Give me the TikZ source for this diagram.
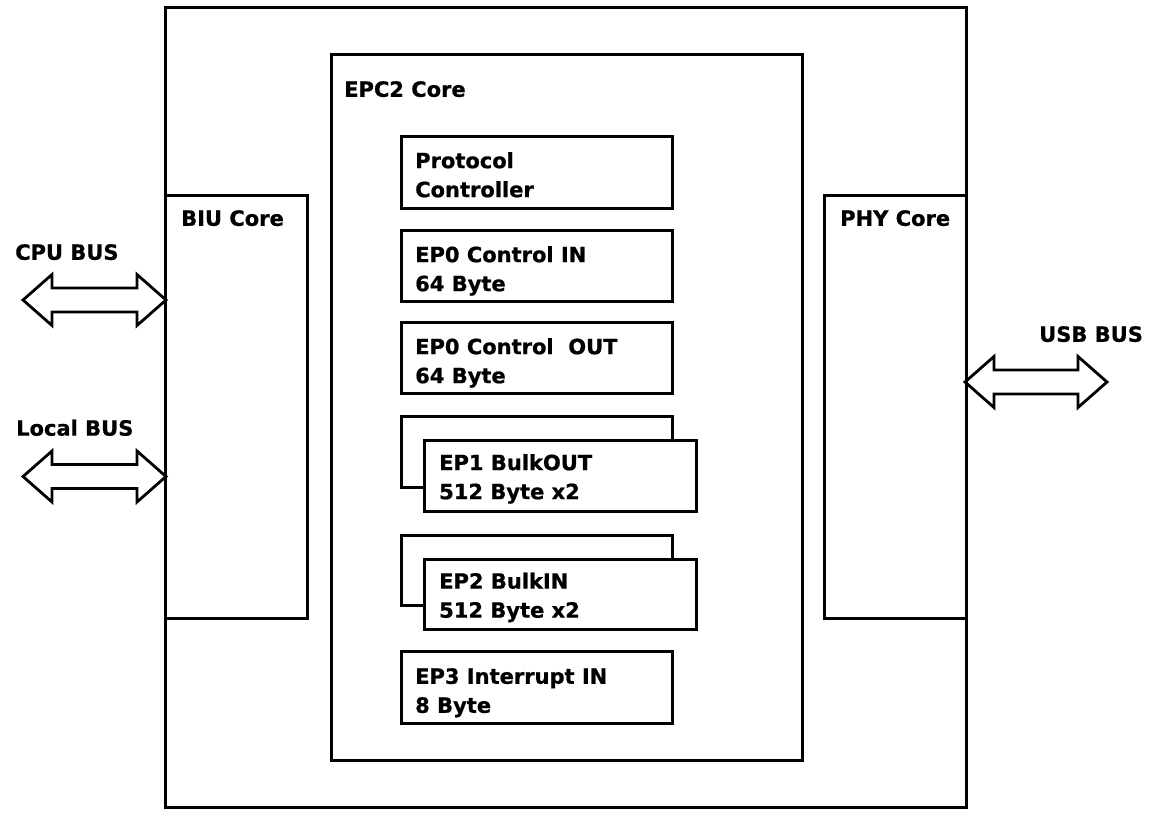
\documentclass[tikz,border=0pt]{standalone}
\usepackage{fontspec}
\setmainfont{DejaVu Sans}[BoldFeatures={FakeBold=0.8}]
\usetikzlibrary{calc}
\tikzset{%
  blk/.style={draw,shape=rectangle,line width=2.5pt,fill=white,inner sep=0,anchor=north west},
  txt/.style={inner sep=0,anchor=north west,align=left,font=\fontsize{21}{29}\selectfont\bfseries},
  bus/.style={draw,line width=2.8pt,line join=miter}
}
% double headed bus arrow: left tip, length
\newcommand{\busarrow}[2]{%
  \draw[bus] (#1) -- ++(29,-25.5) -- ++(0,13.5) -- ++(#2-58,0) -- ++(0,-13.5) -- ++(29,25.5)
    -- ++(-29,25.5) -- ++(0,-13.5) -- ++(-#2+58,0) -- ++(0,13.5) -- cycle;}

\begin{document}
\begin{tikzpicture}[x=1pt,y=-1pt]
    \useasboundingbox (0,0) rectangle (1152,814);
    \path
      (164,6) node (chip)[blk,minimum width=801,minimum height=800]{}
      (164,194) node (biu)[blk,minimum width=142,minimum height=423]{}
      (823,194) node (phy)[blk,minimum width=142,minimum height=423]{}
      (330,53) node (epc)[blk,minimum width=471,minimum height=706]{};
    \path
      (400,135) node (proto)[blk,minimum width=271,minimum height=72]{}
      (400,229) node (ep0in)[blk,minimum width=271,minimum height=71]{}
      (400,321) node (ep0out)[blk,minimum width=271,minimum height=71]{}
      (400,415) node (ep1b)[blk,minimum width=271,minimum height=71]{}
      (423,439) node (ep1)[blk,minimum width=272,minimum height=71]{}
      (400,534) node (ep2b)[blk,minimum width=271,minimum height=70]{}
      (423,558) node (ep2)[blk,minimum width=272,minimum height=70]{}
      (400,650) node (ep3)[blk,minimum width=271,minimum height=72]{};
    \path
      ($(chip.north west)+(17,204)$) node (biutxt)[txt]{BIU Core}
      ($(phy.north west)+(17,16)$) node (phytxt)[txt]{PHY Core}
      ($(epc.north west)+(14,28)$) node (epctxt)[txt]{EPC2 Core}
      ($(proto.north west)+(15,17)$) node (prototxt)[txt]{Protocol\\Controller}
      ($(ep0in.north west)+(15,17)$) node (ep0intxt)[txt]{EP0 Control IN\\64 Byte}
      ($(ep0out.north west)+(15,17)$) node (ep0outtxt)[txt]{EP0 Control\ \ OUT\\64 Byte}
      ($(ep1.north west)+(16,15)$) node (ep1txt)[txt]{EP1 BulkOUT\\512 Byte x2}
      ($(ep2.north west)+(16,14.5)$) node (ep2txt)[txt]{EP2 BulkIN\\512 Byte x2}
      ($(ep3.north west)+(15,18)$) node (ep3txt)[txt]{EP3 Interrupt IN\\8 Byte};
    \path
      (15,244) node (cputxt)[txt]{CPU BUS}
      (16,419.5) node (localtxt)[txt]{Local BUS}
      (1039,326) node (usbtxt)[txt]{USB BUS};
    \coordinate (cpu) at (23,300);
    \coordinate (local) at (23,476.5);
    \coordinate (usb) at (965,382);
    \busarrow{cpu}{143}
    \busarrow{local}{143}
    \busarrow{usb}{142}
  \end{tikzpicture}
\end{document}
